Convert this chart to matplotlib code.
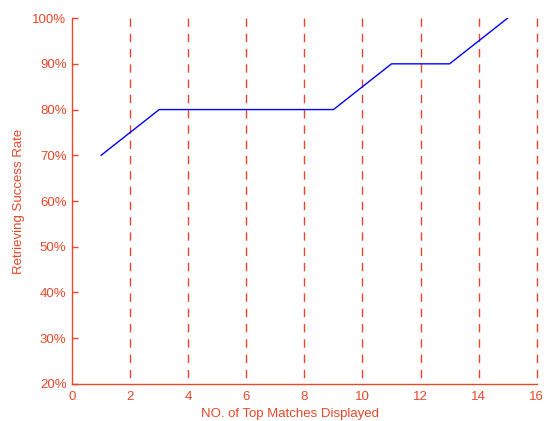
import matplotlib
matplotlib.use("Agg")
import matplotlib.pyplot as plt
from matplotlib.ticker import FuncFormatter

plt.rcParams['font.family'] = ['Liberation Sans', 'DejaVu Sans']

num_matches = [1, 2, 3, 4, 5, 6, 7, 8, 9, 10, 11, 12, 13, 14, 15]
success_rate = [70, 75, 80, 80, 80, 80, 80, 80, 80, 85, 90, 90, 90, 95, 100]
x_ticks = [0, 2, 4, 6, 8, 10, 12, 14, 16]
y_ticks = [20, 30, 40, 50, 60, 70, 80, 90, 100]

red = '#E8472A'

fig = plt.figure(figsize=(5.46, 4.21), dpi=100)
ax = fig.add_axes([0.132, 0.088, 0.851, 0.869])

ax.set_xlim(0, 16)
ax.set_ylim(20, 100)

for xv in x_ticks[1:]:
    ax.plot([xv, xv], [100, 20], color=red, linestyle=(0, (6, 5)),
            linewidth=1.0, zorder=1, clip_on=False)

ax.plot(num_matches, success_rate, color='#0000FF', linewidth=1.0, zorder=3)

ax.set_xticks(x_ticks)
ax.set_yticks(y_ticks)
ax.yaxis.set_major_formatter(FuncFormatter(lambda v, p: f"{int(v)}%"))

for s in ['top', 'right']:
    ax.spines[s].set_visible(False)
for s in ['left', 'bottom']:
    ax.spines[s].set_color(red)
    ax.spines[s].set_linewidth(1.0)

ax.tick_params(axis='both', direction='in', colors=red, labelsize=9.5, length=4, width=1)
ax.tick_params(axis='x', length=0, pad=5)
ax.tick_params(axis='y', pad=4)

ax.set_xlabel('NO. of Top Matches Displayed', color=red, fontsize=9.5)
ax.xaxis.set_label_coords(0.469, -0.065)
ax.set_ylabel('Retrieving Success Rate', color=red, fontsize=9.5, labelpad=5)

fig.savefig('out.png', dpi=100)
